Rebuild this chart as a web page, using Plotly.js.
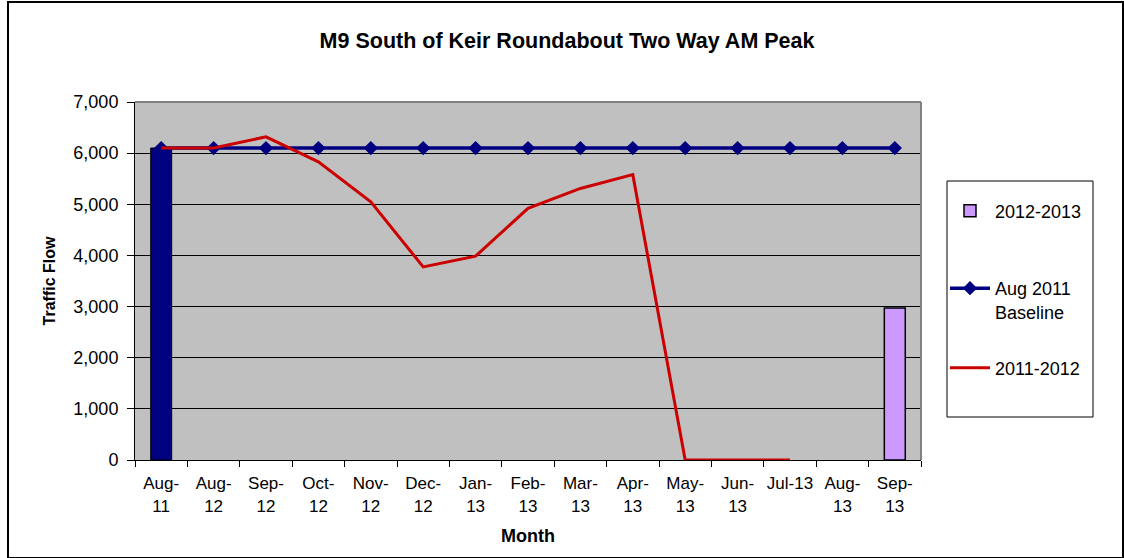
<!DOCTYPE html>
<html>
<head>
<meta charset="utf-8">
<script src="https://cdn.plot.ly/plotly-3.0.1.min.js"></script>
<style>
html,body{margin:0;padding:0;background:#fff;}
#wrap{position:relative;width:1124px;height:558px;}
#chart{position:absolute;left:0;top:0;width:1124px;height:558px;}
#frame{position:absolute;left:7px;top:1px;width:1113px;height:554px;border:2px solid #000;pointer-events:none;}
</style>
</head>
<body>
<div id="wrap"><div id="chart"></div><div id="frame"></div></div>
<script>
const months = ["Aug-11","Aug-12","Sep-12","Oct-12","Nov-12","Dec-12","Jan-13","Feb-13","Mar-13","Apr-13","May-13","Jun-13","Jul-13","Aug-13","Sep-13"];
const tickLabels = ["Aug-<br>11","Aug-<br>12","Sep-<br>12","Oct-<br>12","Nov-<br>12","Dec-<br>12","Jan-<br>13","Feb-<br>13","Mar-<br>13","Apr-<br>13","May-<br>13","Jun-<br>13","Jul-13<br> ","Aug-<br>13","Sep-<br>13"];
const baselineBar = [6100,null,null,null,null,null,null,null,null,null,null,null,null,null,null];
const series1213 = [null,null,null,null,null,null,null,null,null,null,null,null,null,null,2970];
const baseline = [6100,6100,6100,6100,6100,6100,6100,6100,6100,6100,6100,6100,6100,6100,6100];
const series1112 = [6100,6100,6320,5830,5050,3775,3985,4920,5310,5580,0,0,0,null,null];

const font = "Liberation Sans, Arial, sans-serif";

const traces = [
  {type:"bar", x:months, y:baselineBar, name:"Aug 2011 bar", showlegend:false,
   width:0.4, marker:{color:"#000080", line:{color:"#000", width:1}}, hoverinfo:"x+y"},
  {type:"bar", x:months, y:series1213, name:"2012-2013", legend:"legend",
   width:0.4, marker:{color:"#CC99FF", line:{color:"#000", width:1.5}}},
  {type:"scatter", mode:"lines+markers", x:months, y:baseline, name:"Aug 2011<br>Baseline",
   legend:"legend2",
   line:{color:"#000080", width:3.5}, marker:{symbol:"diamond", size:11, color:"#000080"}},
  {type:"scatter", mode:"lines", x:months, y:series1112, name:"2011-2012",
   legend:"legend3", connectgaps:false,
   line:{color:"#CC0000", width:3}}
];

const plotL = 135, plotR = 921, plotT = 102, plotB = 460;
const pw = plotR - plotL, ph = plotB - plotT;
const px = v => (v - plotL) / pw;
const py = v => (plotB - v) / ph;

const legendBase = {x:px(945), xanchor:"left", yanchor:"middle", borderwidth:0, bgcolor:"rgba(0,0,0,0)",
  font:{size:18, family:font, color:"#000"}, itemwidth:40, valign:"top"};

const layout = {
  width:1124, height:558,
  margin:{l:plotL, r:1124 - plotR, t:plotT, b:558 - plotB},
  paper_bgcolor:"#fff", plot_bgcolor:"#C0C0C0",
  font:{family:font, color:"#000", size:18},
  barmode:"overlay",
  title:{text:"<b>M9 South of Keir Roundabout Two Way AM Peak</b>", x:0.5045, xref:"container", xanchor:"center",
         y:1 - 40.5/558, yref:"container", yanchor:"middle", font:{size:21.5, family:font, color:"#000"}},
  xaxis:{type:"category", tickmode:"array", tickvals:months, ticktext:tickLabels, tickangle:0,
         tickson:"boundaries", ticks:"outside", ticklen:6, tickcolor:"#000", ticklabelstandoff:8,
         showline:true, linecolor:"#000", linewidth:1, showgrid:false,
         tickfont:{size:17, family:font, color:"#000"},
         title:{text:"<b>Month</b>", font:{size:18, family:font, color:"#000"}, standoff:14},
         range:[-0.5,14.5], fixedrange:true},
  yaxis:{range:[0,7000], dtick:1000, tickformat:",d", ticks:"outside", ticklen:7, tickcolor:"#000", ticklabelstandoff:5,
         showline:true, linecolor:"#000", linewidth:1, showgrid:true, gridcolor:"#000", gridwidth:1,
         zeroline:false, tickfont:{size:18, family:font, color:"#000"},
         title:{text:"<b>Traffic Flow</b>", font:{size:16, family:font, color:"#000"}, standoff:13},
         fixedrange:true},
  legend:Object.assign({}, legendBase, {y:py(211)}),
  legend2:Object.assign({}, legendBase, {y:py(300)}),
  legend3:Object.assign({}, legendBase, {y:py(368)}),
  shapes:[
    {type:"line", xref:"paper", yref:"paper", x0:0, x1:1, y0:1, y1:1, line:{color:"#808080", width:2}, layer:"above"},
    {type:"line", xref:"paper", yref:"paper", x0:1, x1:1, y0:0, y1:1, line:{color:"#808080", width:2}, layer:"above"},
    {type:"rect", xref:"paper", yref:"paper", x0:px(947), x1:px(1093), y0:py(417), y1:py(181),
     line:{color:"#000", width:1}, fillcolor:"#fff", layer:"below"}
  ],
  showlegend:true
};

Plotly.newPlot("chart", traces, layout, {displayModeBar:false, staticPlot:true});
</script>
</body>
</html>
